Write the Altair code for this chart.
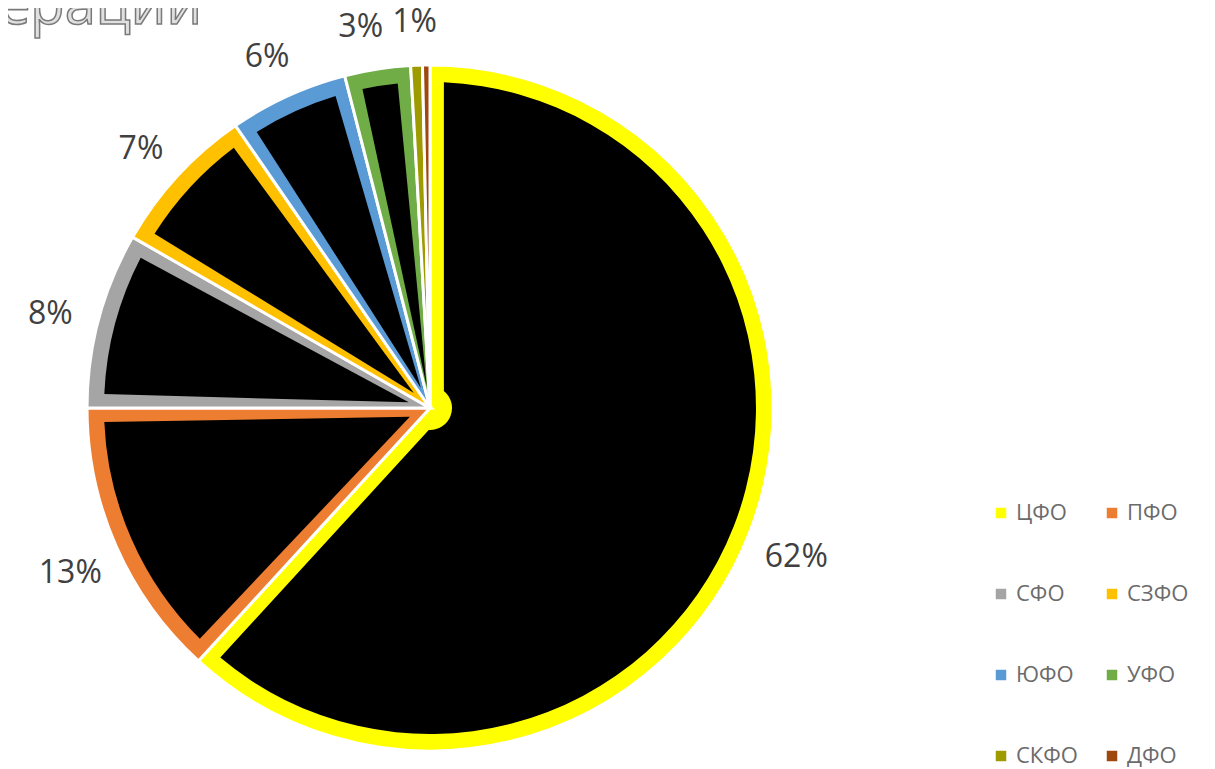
import altair as alt
import pandas as pd

districts = ["ЦФО", "ПФО", "СФО", "СЗФО", "ЮФО", "УФО", "СКФО", "ДФО"]
shares = [61.8, 13.2, 8.3, 7.1, 5.6, 3.1, 0.55, 0.35]
labels = ["62%", "13%", "8%", "7%", "6%", "3%", "1%", ""]
colors = ["#FFFF00", "#ED7D31", "#A5A5A5", "#FFC000", "#5B9BD5", "#70AD47", "#9E9B00", "#9E480E"]
title_text = "Распределение по федеральным округам Российской Федерации"

df = pd.DataFrame({
    "district": districts,
    "share": shares,
    "label": labels,
    "idx": list(range(len(districts))),
})

CX, CY = 422, 400
base = alt.Chart(df).encode(
    theta=alt.Theta("share:Q", stack=True),
    order=alt.Order("idx:Q"),
)

slices = base.mark_arc(outerRadius=343, stroke="white", strokeWidth=3).encode(
    x=alt.value(CX), y=alt.value(CY),
    color=alt.Color(
        "district:N",
        scale=alt.Scale(domain=districts, range=colors),
        sort=districts,
        legend=alt.Legend(
            title=None, orient="none", legendX=982, legendY=494, columns=2,
            direction="horizontal",
            symbolType="square", symbolSize=110, symbolStrokeWidth=0,
            labelFont="Open Sans", labelFontSize=22, labelColor="#6b6b6b",
            labelOffset=4, rowPadding=59, columnPadding=23,
        ),
    ),
)

inner = base.mark_arc(outerRadius=326, innerRadius=22, padAngle=0.085, color="black").encode(
    x=alt.value(CX), y=alt.value(CY),
)

# labels: the crowded УФО label is nudged left in its own layer (same stacking)
text_main = base.transform_calculate(
    lbl="datum.district == 'УФО' ? '' : datum.label"
).mark_text(radius=393, font="Open Sans", fontSize=32, color="#404040").encode(
    x=alt.value(CX), y=alt.value(CY + 7),
    text="lbl:N",
)
text_ufo = base.transform_calculate(
    lbl="datum.district == 'УФО' ? datum.label : ''"
).mark_text(radius=393, font="Open Sans", fontSize=32, color="#404040", dx=-9).encode(
    x=alt.value(CX), y=alt.value(CY + 7),
    text="lbl:N",
)

title_df = pd.DataFrame({"t": [title_text]})
title = alt.Chart(title_df).mark_text(
    font="Open Sans", fontSize=56, align="right", baseline="alphabetic",
    fill="#e0e0e0", stroke="#7a7a7a", strokeWidth=1.5,
).encode(x=alt.value(194), y=alt.value(16), text="t:N")

chart = alt.layer(slices, inner, text_main, text_ufo, title).properties(
    width=1199, height=761,
    autosize=alt.AutoSizeParams(type="none"),
    padding=0,
).configure_view(stroke=None)

chart.save("out.html", embed_options={"renderer": "svg", "actions": False})
